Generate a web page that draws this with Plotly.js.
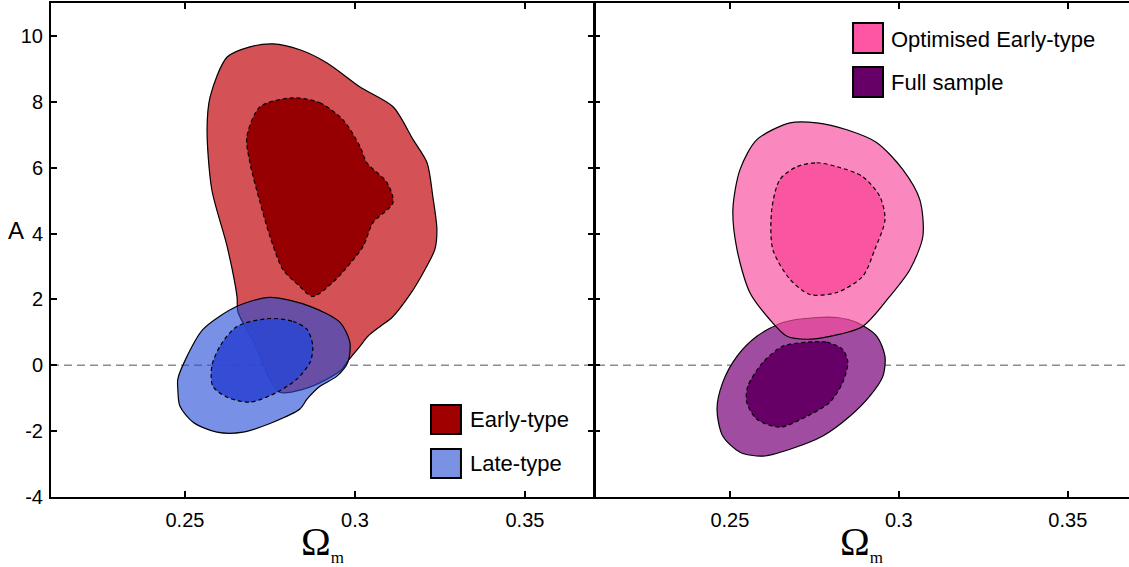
<!DOCTYPE html>
<html>
<head>
<meta charset="utf-8">
<script src="https://cdn.plot.ly/plotly-3.0.1.min.js"></script>
<style>html,body{margin:0;padding:0;background:#fff;}#chart{width:1129px;height:567px;}</style>
</head>
<body>
<div id="chart"></div>
<script>
// ---- Data ----
// Left panel: Early-type (red) contours, Omega_m vs A
var earlyOuterOm = [0.2759,0.2838,0.2918,0.3015,0.3112,0.3171,0.3212,0.3229,0.3241,0.3235,0.3206,0.3162,0.3109,0.3074,0.3038,0.3015,0.2976,0.2962,0.2918,0.2847,0.2779,0.2750,0.2706,0.2656,0.2653,0.2624,0.2579,0.2565,0.2574,0.2624,0.2691];
var earlyOuterA  = [9.76,9.58,9.18,8.45,7.85,6.85,6.15,5.12,4.12,3.52,2.91,2.15,1.45,1.18,0.88,0.58,0.09,-0.12,-0.42,-0.73,-0.82,-0.42,0.64,1.61,2.09,3.61,5.33,7.15,8.15,9.36,9.67];
var earlyInnerOm = [0.2818,0.2897,0.2965,0.3015,0.3035,0.3094,0.3112,0.3053,0.3024,0.2971,0.2935,0.2876,0.2832,0.2788,0.2750,0.2721,0.2691,0.2682,0.2721];
var earlyInnerA  = [8.12,7.97,7.45,6.64,6.15,5.55,4.94,4.33,3.61,2.91,2.52,2.09,2.45,2.91,3.91,4.94,6.15,6.94,7.85];
// Left panel: Late-type (blue) contours
var lateOuterOm = [0.2750,0.2868,0.2956,0.2985,0.2979,0.2947,0.2897,0.2859,0.2838,0.2759,0.2671,0.2594,0.2524,0.2485,0.2479,0.2479,0.2506,0.2553,0.2653];
var lateOuterA  = [2.06,1.79,1.30,0.70,0.09,-0.33,-0.64,-1.03,-1.33,-1.73,-2.03,-2.03,-1.73,-1.24,-0.73,-0.42,0.27,1.09,1.79];
var lateInnerOm = [0.2750,0.2818,0.2859,0.2876,0.2868,0.2829,0.2771,0.2691,0.2624,0.2582,0.2579,0.2603,0.2653];
var lateInnerA  = [1.42,1.33,1.09,0.58,0.09,-0.42,-0.82,-1.12,-0.97,-0.64,-0.03,0.58,1.18];
// Right panel: Optimised Early-type (pink) contours
var optOuterOm = [0.2678,0.2757,0.2846,0.2935,0.3012,0.3062,0.3071,0.3033,0.2973,0.2893,0.2796,0.2728,0.2669,0.2618,0.2559,0.2521,0.2509,0.2530,0.2580];
var optOuterA  = [7.36,7.36,7.15,6.76,5.94,5.03,3.91,2.91,2.09,1.18,0.88,0.79,0.88,1.39,2.21,3.52,4.73,5.94,6.85];
var optInnerOm = [0.2698,0.2757,0.2817,0.2893,0.2944,0.2959,0.2929,0.2893,0.2817,0.2737,0.2678,0.2627,0.2624,0.2648];
var optInnerA  = [6.03,6.15,6.03,5.73,5.12,4.42,3.52,2.70,2.21,2.15,2.61,3.52,4.73,5.64];
// Right panel: Full sample (purple) contours
var fullOuterOm = [0.2757,0.2817,0.2876,0.2935,0.2959,0.2953,0.2914,0.2855,0.2775,0.2678,0.2598,0.2530,0.2479,0.2462,0.2479,0.2521,0.2580,0.2657];
var fullOuterA  = [1.45,1.45,1.30,0.88,0.27,-0.33,-0.94,-1.55,-2.15,-2.55,-2.76,-2.64,-2.15,-1.33,-0.52,0.27,0.88,1.30];
var fullInnerOm = [0.2728,0.2787,0.2834,0.2849,0.2834,0.2796,0.2728,0.2648,0.2580,0.2550,0.2553,0.2598,0.2657];
var fullInnerA  = [0.70,0.70,0.48,0.09,-0.52,-1.12,-1.55,-1.88,-1.64,-1.12,-0.64,0.09,0.58];

var yTickVals = [-4,-2,0,2,4,6,8,10];
var yTickText = ['-4','-2','0','2','4','6','8','10'];
var xTickVals = [0.25,0.3,0.35];
var xTickText = ['0.25','0.3','0.35'];
var legendLeft  = ['Early-type','Late-type'];
var legendRight = ['Optimised Early-type','Full sample'];
var referenceA = 0;

// ---- Helpers ----
function closed(a){ return a.concat([a[0]]); }
function region(xs, ys, fill, dashed, xa, ya, name){
  return {
    type:'scatter', mode:'lines', name:name,
    x: closed(xs), y: closed(ys), xaxis: xa, yaxis: ya,
    fill:'toself', fillcolor: fill,
    line:{color:'#000', width:1.2, shape:'spline', smoothing:0.8, dash: dashed ? '4px,3px' : 'solid'},
    hoverinfo:'skip', showlegend:false
  };
}

var traces = [
  region(earlyOuterOm, earlyOuterA, 'rgb(212,82,86)', false, 'x', 'y', 'Early-type 95%'),
  region(earlyInnerOm, earlyInnerA, 'rgb(150,0,2)', true, 'x', 'y', 'Early-type 68%'),
  region(lateOuterOm, lateOuterA, 'rgba(37,77,215,0.62)', false, 'x', 'y', 'Late-type 95%'),
  region(lateInnerOm, lateInnerA, 'rgba(45,70,210,0.9)', true, 'x', 'y', 'Late-type 68%'),
  region(fullOuterOm, fullOuterA, 'rgb(160,76,160)', false, 'x2', 'y2', 'Full sample 95%'),
  region(fullInnerOm, fullInnerA, 'rgb(102,0,102)', true, 'x2', 'y2', 'Full sample 68%'),
  region(optOuterOm, optOuterA, 'rgba(247,78,159,0.68)', false, 'x2', 'y2', 'Optimised Early-type 95%'),
  region(optInnerOm, optInnerA, 'rgb(250,85,160)', true, 'x2', 'y2', 'Optimised Early-type 68%')
];

var sansFont = 'Liberation Sans, Arial, Helvetica, sans-serif';
var serifFont = 'Liberation Serif, Times New Roman, serif';
var omegaTitle = 'Ω<sub><span style="font-size:17px">m</span></sub>';
var axisCommon = {
  showgrid:false, zeroline:false, showline:true, linecolor:'#000', linewidth:2,
  ticks:'inside', ticklen:6, tickwidth:2, tickcolor:'#000',
  tickfont:{family:sansFont, size:20, color:'#000'}, fixedrange:true
};
function ax(extra){ return Object.assign({}, axisCommon, extra); }

var layout = {
  width:1129, height:567,
  margin:{l:51, r:0, t:3, b:70, pad:0},
  paper_bgcolor:'#fff', plot_bgcolor:'rgba(0,0,0,0)',
  showlegend:false,
  xaxis: ax({domain:[0,0.5037], range:[0.2106,0.3703], tickvals:xTickVals, ticktext:xTickText, mirror:'ticks', anchor:'y', ticklabelstandoff:4,
    title:{text:omegaTitle, font:{family:serifFont, size:40, color:'#000'}, standoff:1}}),
  yaxis: ax({domain:[0,1], range:[-4,11], tickvals:yTickVals, ticktext:yTickText, mirror:'ticks', anchor:'x', ticklabelstandoff:2}),
  xaxis2: ax({domain:[0.5037,1], range:[0.2098,0.3681], tickvals:xTickVals, ticktext:xTickText, mirror:'ticks', anchor:'y2', ticklabelstandoff:4,
    title:{text:omegaTitle, font:{family:serifFont, size:40, color:'#000'}, standoff:1}}),
  yaxis2: ax({domain:[0,1], range:[-4,11], tickvals:yTickVals, showticklabels:false, mirror:false, anchor:'x2', linewidth:1}),
  shapes:[
    {type:'line', xref:'paper', yref:'y', x0:0, x1:1, y0:referenceA, y1:referenceA, layer:'below',
     line:{color:'rgb(140,140,140)', width:1.5, dash:'8px,5px'}},
    {type:'rect', xref:'paper', yref:'paper', x0:0.3525, x1:0.3803, y0:0.1275, y1:0.1862, fillcolor:'rgb(160,0,0)', line:{color:'#000', width:2}},
    {type:'rect', xref:'paper', yref:'paper', x0:0.3525, x1:0.3803, y0:0.0385, y1:0.0972, fillcolor:'rgb(122,145,228)', line:{color:'#000', width:2}},
    {type:'rect', xref:'paper', yref:'paper', x0:0.744, x1:0.7718, y0:0.8988, y1:0.9595, fillcolor:'rgb(255,85,165)', line:{color:'#000', width:2}},
    {type:'rect', xref:'paper', yref:'paper', x0:0.744, x1:0.7718, y0:0.8097, y1:0.8704, fillcolor:'rgb(102,0,102)', line:{color:'#000', width:2}}
  ],
  annotations:[
    {text:'A', xref:'paper', yref:'paper', x:-0.0325, y:0.5385, xanchor:'center', yanchor:'middle', showarrow:false, font:{family:sansFont, size:24, color:'#000'}},
    {text:legendLeft[0], xref:'paper', yref:'paper', x:0.3868, y:0.1559, xanchor:'left', yanchor:'middle', showarrow:false, font:{family:sansFont, size:22, color:'#000'}},
    {text:legendLeft[1], xref:'paper', yref:'paper', x:0.3868, y:0.0688, xanchor:'left', yanchor:'middle', showarrow:false, font:{family:sansFont, size:22, color:'#000'}},
    {text:legendRight[0], xref:'paper', yref:'paper', x:0.7774, y:0.9271, xanchor:'left', yanchor:'middle', showarrow:false, font:{family:sansFont, size:22, color:'#000'}},
    {text:legendRight[1], xref:'paper', yref:'paper', x:0.7774, y:0.8381, xanchor:'left', yanchor:'middle', showarrow:false, font:{family:sansFont, size:22, color:'#000'}}
  ]
};

Plotly.newPlot('chart', traces, layout, {displayModeBar:false, staticPlot:true});
</script>
</body>
</html>
